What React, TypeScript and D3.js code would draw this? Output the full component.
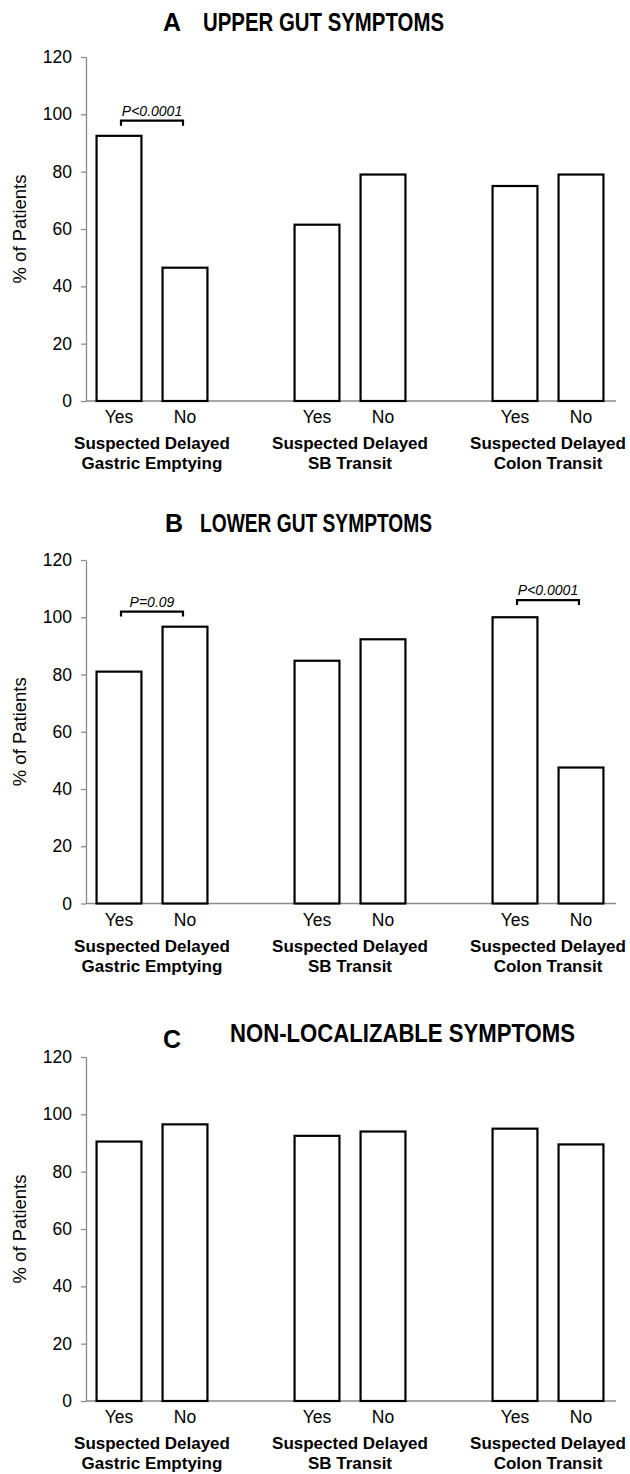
import React, { useEffect, useRef } from 'react'
import * as d3 from 'd3'

// chart data
const groupKeys = ['GE', 'SB', 'CT']
const groupLines = [
  ['Suspected Delayed', 'Gastric Emptying'],
  ['Suspected Delayed', 'SB Transit'],
  ['Suspected Delayed', 'Colon Transit'],
]
const answers = ['Yes', 'No']
const yTicks = [0, 20, 40, 60, 80, 100, 120]

const upperGut = [[92.5, 46.5], [61.5, 79], [75, 79]]
const lowerGut = [[81, 96.7], [84.8, 92.3], [100, 47.5]]
const nonLocal = [[90.5, 96.5], [92.5, 94], [95, 89.5]]

const upperP = [{ group: 'GE', label: 'P<0.0001', at: 97.8 }]
const lowerP = [
  { group: 'GE', label: 'P=0.09', at: 102 },
  { group: 'CT', label: 'P<0.0001', at: 106 },
]

const FONT = "'Liberation Sans', Arial, Helvetica, sans-serif"

const panels = [
  { letter: 'A', title: 'UPPER GUT SYMPTOMS', values: upperGut, pvals: upperP,
    top: 57, bottom: 401, letterX: 163, titleX: 203, titleW: 241, titleY: 31, letterY: 31 },
  { letter: 'B', title: 'LOWER GUT SYMPTOMS', values: lowerGut, pvals: lowerP,
    top: 560, bottom: 903.5, letterX: 165, titleX: 200, titleW: 232, titleY: 532, letterY: 532 },
  { letter: 'C', title: 'NON-LOCALIZABLE SYMPTOMS', values: nonLocal, pvals: [],
    top: 1057, bottom: 1401, letterX: 163, titleX: 230, titleW: 345, titleY: 1042, letterY: 1048 },
]

function drawPanel(svg, p) {
  const g = svg.append('g')
  const left = 86
  const right = 616

  const outer = d3.scaleBand().domain(groupKeys).range([left, 614]).paddingInner(1 / 3).paddingOuter(0)
  const inner = d3.scaleBand().domain(answers).range([0, outer.bandwidth()]).paddingInner(0.32).paddingOuter(0.16)
  const y = d3.scaleLinear().domain([0, 120]).range([p.bottom, p.top])

  // title
  g.append('text')
    .attr('x', p.letterX).attr('y', p.letterY)
    .attr('font-family', FONT).attr('font-weight', 'bold').attr('font-size', 25)
    .text(p.letter)
  g.append('text')
    .attr('x', p.titleX).attr('y', p.titleY)
    .attr('font-family', FONT).attr('font-weight', 'bold').attr('font-size', 25)
    .attr('textLength', p.titleW).attr('lengthAdjust', 'spacingAndGlyphs')
    .text(p.title)

  // y axis
  const ax = g.append('g')
    .attr('transform', `translate(${left},0)`)
    .call(d3.axisLeft(y).tickValues(yTicks).tickSize(5).tickSizeOuter(0).tickPadding(9))
  ax.select('.domain').attr('stroke', '#8a8a8a').attr('stroke-width', 1.3)
  ax.selectAll('.tick line').attr('stroke', '#8a8a8a').attr('stroke-width', 1.3)
  ax.selectAll('.tick text')
    .attr('font-family', FONT).attr('font-size', 17.5).attr('fill', '#000')

  g.append('text')
    .attr('transform', `translate(26,${(p.top + p.bottom) / 2}) rotate(-90)`)
    .attr('text-anchor', 'middle')
    .attr('font-family', FONT).attr('font-size', 18.5)
    .text('% of Patients')

  // x axis line
  g.append('line')
    .attr('x1', left).attr('x2', right)
    .attr('y1', y(0)).attr('y2', y(0))
    .attr('stroke', '#8a8a8a').attr('stroke-width', 1.3)

  // bars
  groupKeys.forEach((key, i) => {
    const gx = outer(key)
    answers.forEach((ans, j) => {
      const v = p.values[i][j]
      g.append('rect')
        .attr('x', gx + inner(ans))
        .attr('y', y(v))
        .attr('width', inner.bandwidth())
        .attr('height', y(0) - y(v))
        .attr('fill', '#fff')
        .attr('stroke', '#000')
        .attr('stroke-width', 2.2)

      g.append('text')
        .attr('x', gx + inner(ans) + inner.bandwidth() / 2)
        .attr('y', y(0) + 22)
        .attr('text-anchor', 'middle')
        .attr('font-family', FONT).attr('font-size', 17.5)
        .text(ans)
    })

    groupLines[i].forEach((line, k) => {
      g.append('text')
        .attr('x', gx + outer.bandwidth() / 2)
        .attr('y', y(0) + 48 + k * 20)
        .attr('text-anchor', 'middle')
        .attr('font-family', FONT).attr('font-weight', 'bold').attr('font-size', 17)
        .text(line)
    })
  })

  // significance brackets
  p.pvals.forEach(pv => {
    const gx = outer(pv.group)
    const x1 = gx + inner('Yes') + inner.bandwidth() / 2 + 2
    const x2 = gx + inner('No') + inner.bandwidth() / 2 - 2
    const yb = y(pv.at)
    g.append('path')
      .attr('d', `M${x1},${yb + 5}V${yb}H${x2}V${yb + 5}`)
      .attr('fill', 'none').attr('stroke', '#000').attr('stroke-width', 2.2)
    g.append('text')
      .attr('x', (x1 + x2) / 2)
      .attr('y', yb - 5)
      .attr('text-anchor', 'middle')
      .attr('font-family', FONT).attr('font-style', 'italic').attr('font-size', 14)
      .text(pv.label)
  })
}

export default function App() {
  const ref = useRef(null)

  useEffect(() => {
    const svg = d3.select(ref.current)
    svg.selectAll('*').remove()
    panels.forEach(p => drawPanel(svg, p))
  }, [])

  return (
    <svg ref={ref} width={630} height={1474}
      style={{ position: 'absolute', left: 0, top: 0, background: '#fff' }} />
  )
}
